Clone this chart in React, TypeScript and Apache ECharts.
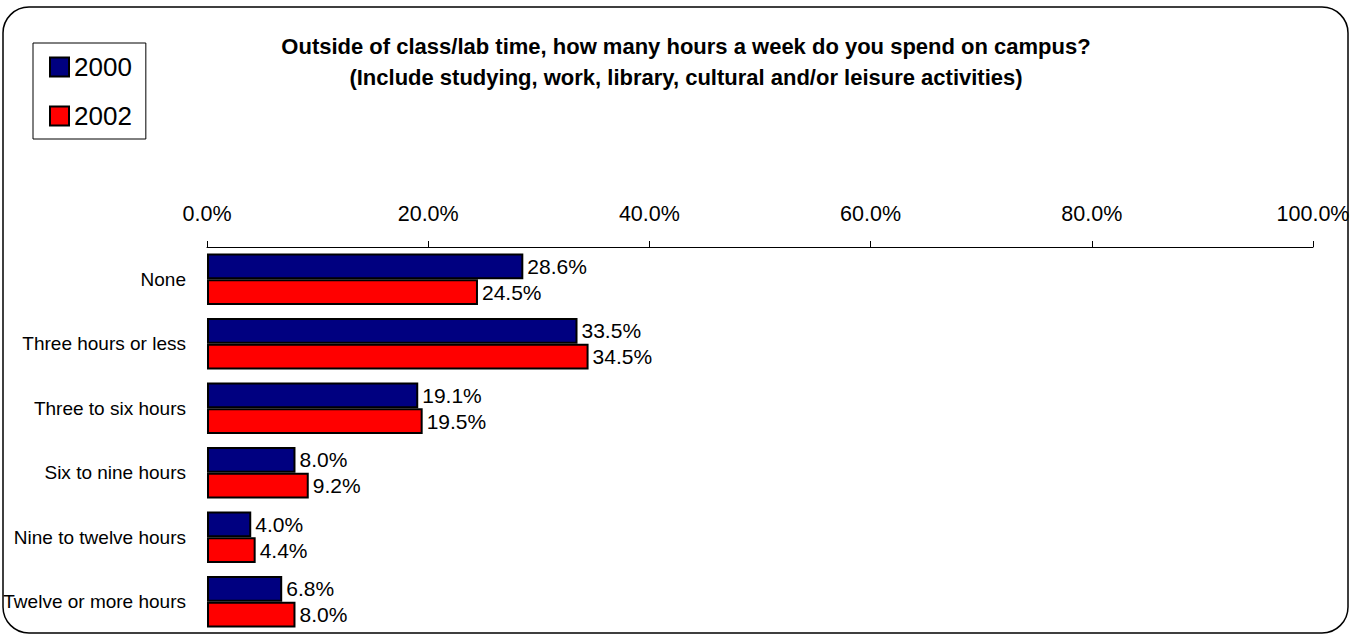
import React, { useEffect, useRef } from "react";
import * as echarts from "echarts";

const categories = [
  "None",
  "Three hours or less",
  "Three to six hours",
  "Six to nine hours",
  "Nine to twelve hours",
  "Twelve or more hours",
];
const series2000 = [28.6, 33.5, 19.1, 8.0, 4.0, 6.8];
const series2002 = [24.5, 34.5, 19.5, 9.2, 4.4, 8.0];
const titleLines = [
  "Outside of class/lab time, how many hours a week do you spend on campus?",
  "(Include studying, work, library, cultural and/or leisure activities)",
];

const FONT = "'Liberation Sans', Arial, sans-serif";

export default function App() {
  const ref = useRef<HTMLDivElement>(null);
  useEffect(() => {
    if (!ref.current) return;
    const chart = echarts.init(ref.current, undefined, { renderer: "svg" });
    const label = {
      show: true,
      position: "right" as const,
      distance: 4,
      color: "#000",
      fontSize: 21,
      fontFamily: FONT,
      formatter: (p: any) => Number(p.value).toFixed(1) + "%",
    };
    chart.setOption({
      animation: false,
      backgroundColor: "#fff",
      textStyle: { fontFamily: FONT },
      title: {
        text: titleLines.join("\n"),
        left: 681,
        textAlign: "center",
        top: 26,
        textStyle: {
          fontSize: 22,
          fontWeight: "bold",
          fontFamily: FONT,
          color: "#000",
          lineHeight: 31,
        },
      },
      legend: {
        orient: "vertical",
        left: 33,
        top: 43,
        padding: [11, 14, 10, 16],
        itemGap: 23,
        itemWidth: 19,
        itemHeight: 19,
        icon: "rect",
        borderColor: "#000",
        borderWidth: 1,
        textStyle: { fontSize: 26, color: "#000", fontFamily: FONT, lineHeight: 26 },
        data: ["2000", "2002"],
      },
      graphic: [
        {
          type: "rect",
          shape: { x: 3, y: 7, width: 1345, height: 626, r: 26 },
          style: { fill: "none", stroke: "#000", lineWidth: 1.5 },
          silent: true,
          z: 100,
        },
      ],
      grid: { left: 207, right: 45, top: 247, bottom: 1, containLabel: false },
      xAxis: {
        type: "value",
        position: "top",
        min: 0,
        max: 100,
        interval: 20,
        axisLine: { show: true, lineStyle: { color: "#000", width: 1 } },
        axisTick: { show: true, length: 6, lineStyle: { color: "#000" } },
        splitLine: { show: false },
        axisLabel: {
          margin: 22,
          fontSize: 21.5,
          color: "#000",
          fontFamily: FONT,
          formatter: (v: number) => v.toFixed(1) + "%",
        },
      },
      yAxis: {
        type: "category",
        inverse: true,
        data: categories,
        axisLine: { show: false },
        axisTick: { show: false },
        axisLabel: { margin: 21, fontSize: 19, color: "#000", fontFamily: FONT },
      },
      series: [
        {
          name: "2000",
          type: "bar",
          data: series2000,
          barGap: "0%",
          barCategoryGap: "20%",
          itemStyle: { color: "#000080", borderColor: "#000", borderWidth: 2 },
          label,
        },
        {
          name: "2002",
          type: "bar",
          data: series2002,
          itemStyle: { color: "#ff0000", borderColor: "#000", borderWidth: 2 },
          label,
        },
      ],
    });
    return () => chart.dispose();
  }, []);
  return (
    <div
      ref={ref}
      style={{ position: "absolute", left: 0, top: 0, width: 1358, height: 635, background: "#fff" }}
    />
  );
}
